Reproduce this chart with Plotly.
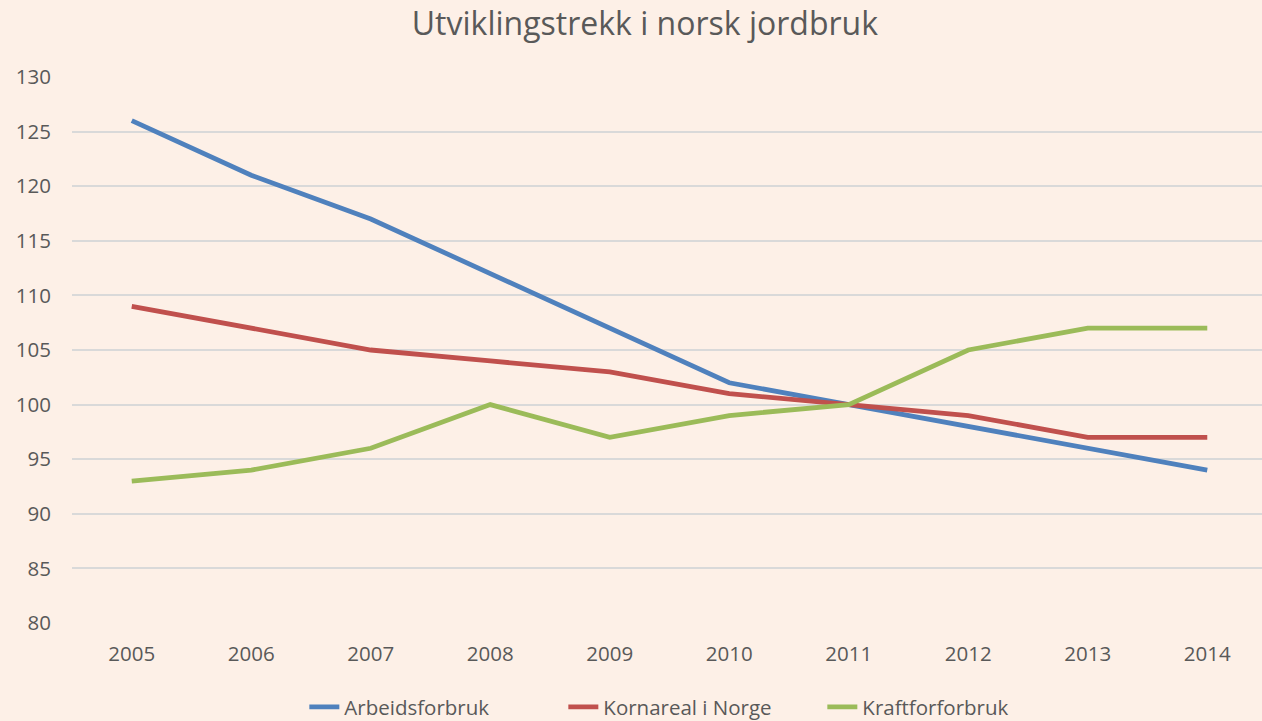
import plotly.graph_objects as go

years = ["2005", "2006", "2007", "2008", "2009", "2010", "2011", "2012", "2013", "2014"]
arbeidsforbruk = [126, 121, 117, 112, 107, 102, 100, 98, 96, 94]
kornareal = [109, 107, 105, 104, 103, 101, 100, 99, 97, 97]
kraftforforbruk = [93, 94, 96, 100, 97, 99, 100, 105, 107, 107]

series = [
    ("Arbeidsforbruk", arbeidsforbruk, "#4F81BD"),
    ("Kornareal i Norge", kornareal, "#C0504D"),
    ("Kraftforforbruk", kraftforforbruk, "#9BBB59"),
]

bg = "#FDF0E7"
txt = "#595959"
font = "Open Sans, Noto Sans, sans-serif"

fig = go.Figure()
for name, vals, col in series:
    fig.add_trace(go.Scatter(x=years, y=vals, name=name, mode="lines",
                             line=dict(color=col, width=4.8)))

fig.update_layout(
    width=1262, height=721,
    paper_bgcolor=bg, plot_bgcolor=bg,
    margin=dict(l=72, r=0, t=77, b=98),
    font=dict(family=font, color=txt, size=20),
    title=dict(text="Utviklingstrekk i norsk jordbruk", x=0.511, xanchor="center",
               y=0.967, yanchor="middle", font=dict(size=32, color=txt, family=font)),
    legend=dict(orientation="h", x=0.549, xanchor="center", xref="container",
                y=0.0194, yanchor="middle", yref="container",
                font=dict(size=20.5, color=txt, family=font), bgcolor="rgba(0,0,0,0)",
                entrywidth=214, entrywidthmode="pixels"),
    showlegend=True,
)
fig.update_xaxes(type="category", range=[-0.5, 9.458], showgrid=False, zeroline=False,
                 showline=False, ticks="", ticklabelstandoff=16,
                 tickfont=dict(size=20.5, color=txt, family=font))
fig.update_yaxes(range=[80, 130], dtick=5, showgrid=True, gridcolor="#D9D9D9", gridwidth=1.5,
                 zeroline=False, showline=False, ticks="", ticklabelstandoff=20,
                 tickfont=dict(size=20.5, color=txt, family=font))

fig.write_html("out.html", config={"displayModeBar": False},
               post_script="document.body.style.margin='0';document.body.style.padding='0';")
